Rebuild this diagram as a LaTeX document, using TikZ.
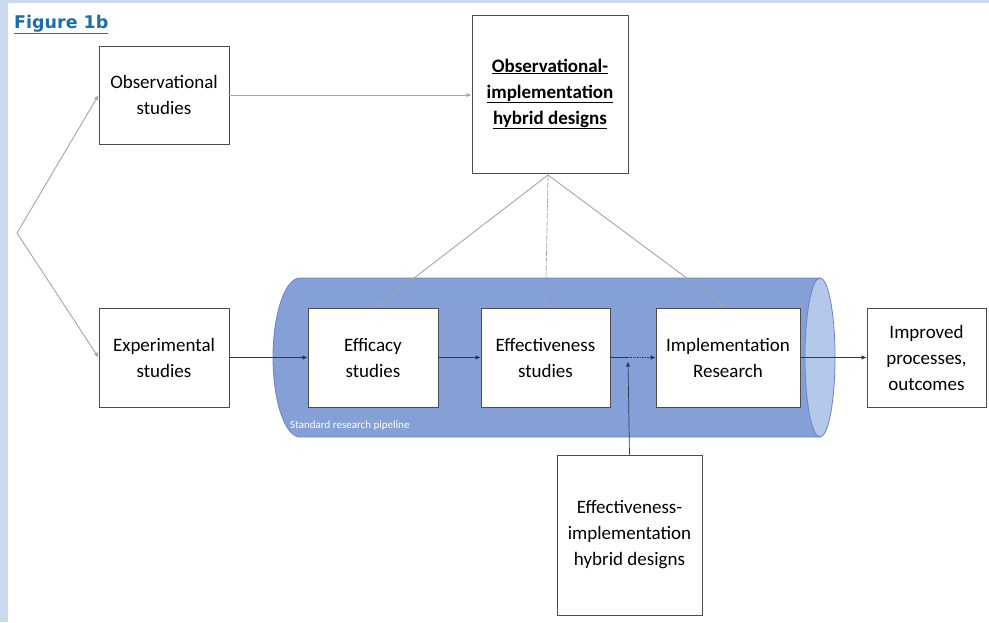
\documentclass[tikz,border=0pt]{standalone}
\usepackage{fontspec}
\setmainfont{Carlito}
\newfontfamily\titlefont{DejaVu Sans}
\usetikzlibrary{arrows.meta,calc}

\definecolor{pipeblue}{RGB}{133,160,214}
\definecolor{pipeedge}{RGB}{104,133,196}
\definecolor{capblue}{RGB}{182,199,236}
\definecolor{framblue}{RGB}{203,217,238}
\definecolor{titleblue}{RGB}{30,108,168}
\definecolor{linkgray}{RGB}{165,165,165}
\definecolor{flowdark}{RGB}{45,55,80}

\begin{document}
\begin{tikzpicture}[x=1pt, y=-1pt,
    box/.style={draw=black!70, line width=0.9pt, fill=white, align=center,
      font=\fontsize{19}{26}\selectfont, inner sep=2pt},
    link/.style={draw=linkgray, line width=0.9pt, -{Latex[length=5pt,width=4.5pt]}},
    flow/.style={draw=flowdark, line width=0.7pt, -{Latex[length=5pt,width=4.5pt]}}]
    \useasboundingbox (0,0) rectangle (989,622);
    % page frame
    \fill[framblue] (0,0) rectangle (8,622);
    \fill[framblue] (0,0) rectangle (989,3);

    \node[anchor=base west, text=titleblue, font=\titlefont\fontsize{17.5}{20}\selectfont\bfseries, inner sep=0pt]
        (title) at (14,28) {\underline{Figure 1b}};

    % the pipeline tube
    \fill[pipeblue] (300,278) -- (820,278) -- (820,437) -- (300,437)
        arc[start angle=90, end angle=270, x radius=27, y radius=79.5] -- cycle;
    \draw[pipeedge, line width=0.8pt] (820,278) -- (300,278)
        arc[start angle=270, end angle=90, x radius=27, y radius=79.5] -- (820,437);
    \draw[pipeedge, line width=0.8pt, fill=capblue] (820,357.5) ellipse[x radius=15, y radius=79.5];
    \node[anchor=west, text=white, font=\fontsize{11}{12}\selectfont, inner sep=0pt]
        (pipelabel) at (290,426) {Standard research pipeline};

    % boxes
    \node[box, minimum width=130, minimum height=98] (obs) at (164,95) {Observational\\studies};
    \node[box, minimum width=156, minimum height=158, font=\fontsize{19}{26}\selectfont\bfseries]
        (ohyb) at (550,94) {\underline{Observational-}\\\underline{implementation}\\\underline{hybrid designs}};
    \node[box, minimum width=130, minimum height=99] (exp) at (164,357.5) {Experimental\\studies};
    \node[box, minimum width=130, minimum height=99] (effic) at (373,357.5) {Efficacy\\studies};
    \node[box, minimum width=129, minimum height=99] (effect) at (545.5,357.5) {Effectiveness\\studies};
    \node[box, minimum width=144, minimum height=99] (impl) at (728,357.5) {Implementation\\Research};
    \node[box, minimum width=119, minimum height=99] (impr) at (926.5,357.5) {Improved\\processes,\\outcomes};
    \node[box, minimum width=145, minimum height=160] (ehyb) at (629.5,535) {Effectiveness-\\implementation\\hybrid designs};

    % branching on the left
    \coordinate (fork) at (17,233);
    \draw[link] (fork) -- (obs.west);
    \draw[link] (fork) -- (exp.west);
    \draw[link] (obs.east) -- (obs.east -| ohyb.west);

    % hybrid design feeding the pipeline
    \coordinate (ohybfoot) at (548,175);
    \draw[link] (ohybfoot) -- ($(effic.north)+(4,-1)$);
    \draw[link, dash pattern=on 6pt off 1.5pt, line width=0.7pt] (ohybfoot) -- (effect.north);
    \draw[link] (ohybfoot) -- ($(impl.north)+(-3,-1)$);

    % main flow
    \draw[flow] (exp) -- (effic);
    \draw[flow] (effic) -- (effect);
    \coordinate (join) at (628,357.5);
    \draw[flowdark, line width=0.7pt] (effect.east) -- (join);
    \draw[flow, densely dotted] (join) -- (impl.west);
    \draw[flow] (ehyb.north) -- ($(join)+(0,4)$);
    \draw[flow] (impl) -- (impr);
\end{tikzpicture}
\end{document}
